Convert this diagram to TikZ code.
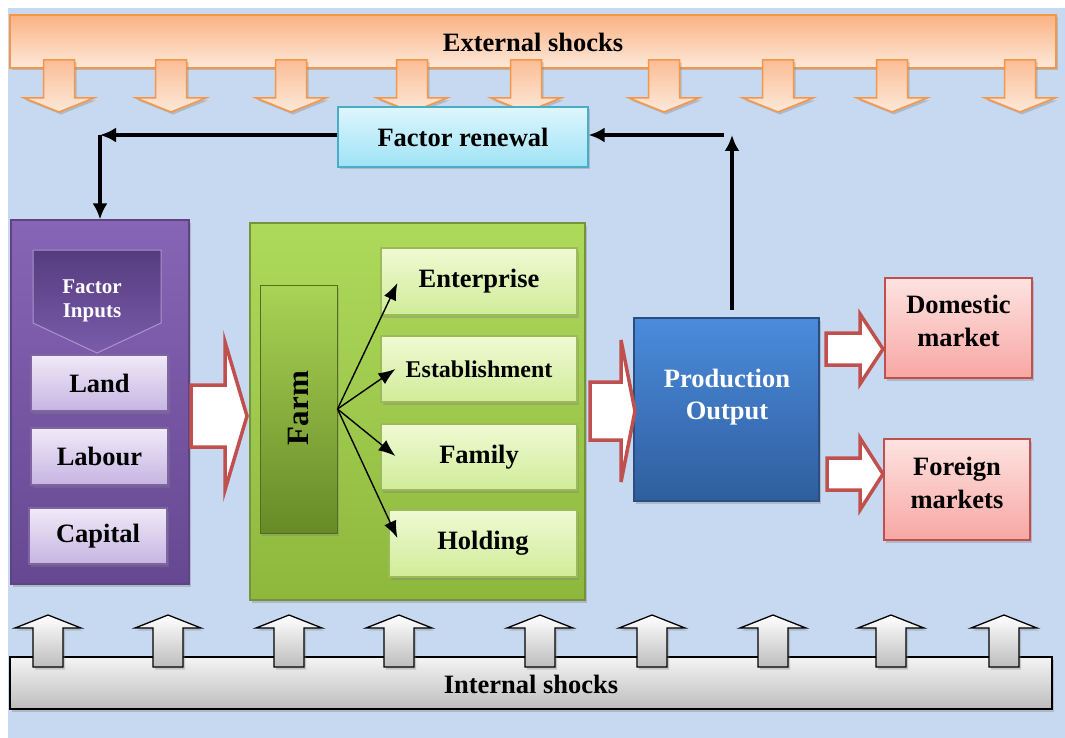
\documentclass[tikz,border=0pt]{standalone}
\usepackage{fontspec}
\setmainfont{Liberation Serif}
\usetikzlibrary{shadows,arrows.meta,calc}
\definecolor{bgblue}{HTML}{C6D9F0}
\definecolor{orB}{HTML}{F79646}
\definecolor{orT}{HTML}{FAB283}
\definecolor{orL}{HTML}{FDE9DA}
\definecolor{cyT}{HTML}{DDF6FD}
\definecolor{cyB}{HTML}{9FE3F6}
\definecolor{cyD}{HTML}{4BACC6}
\definecolor{puT}{HTML}{8765B6}
\definecolor{puB}{HTML}{664892}
\definecolor{puD}{HTML}{5C4580}
\definecolor{pdT}{HTML}{553C7E}
\definecolor{pdB}{HTML}{7A5CAB}
\definecolor{lvT}{HTML}{F0EAF8}
\definecolor{lvB}{HTML}{C6B4E2}
\definecolor{lvD}{HTML}{8064A2}
\definecolor{grT}{HTML}{AEDA5C}
\definecolor{grB}{HTML}{8DB83C}
\definecolor{grD}{HTML}{76923C}
\definecolor{fmT}{HTML}{A9D455}
\definecolor{fmB}{HTML}{678A27}
\definecolor{lgT}{HTML}{EFFAD4}
\definecolor{lgB}{HTML}{D0EC98}
\definecolor{lgD}{HTML}{9BBB59}
\definecolor{blT}{HTML}{4B8BDC}
\definecolor{blB}{HTML}{2F5E9E}
\definecolor{blD}{HTML}{2C4E7E}
\definecolor{pkT}{HTML}{FDE3E1}
\definecolor{pkB}{HTML}{F7A7A3}
\definecolor{pkD}{HTML}{C0504D}
\definecolor{gyT}{HTML}{F4F4F4}
\definecolor{gyB}{HTML}{BDBDBD}
\newcommand\hollowarrow[6]{%
  \draw[hollow] (#1,{#4-#5}) -- (#2,{#4-#5}) -- (#2,{#4-#6}) -- (#3,#4)
    -- (#2,{#4+#6}) -- (#2,{#4+#5}) -- (#1,{#4+#5}) -- cycle;}
\newcommand\shockdown[1]{%
  \draw[downarr] ({#1-15.5},60) -- ({#1+15.5},60) -- ({#1+15.5},98) -- ({#1+35},98)
    -- (#1,112) -- ({#1-35},98) -- ({#1-15.5},98) -- cycle;}
\newcommand\shockup[1]{%
  \draw[uparr] ({#1-15},667) -- ({#1-15},628) -- ({#1-33},628) -- (#1,615)
    -- ({#1+33},628) -- ({#1+15},628) -- ({#1+15},667) -- cycle;}
\begin{document}
\begin{tikzpicture}[x=1pt,y=-1pt,
  shd/.style={drop shadow={opacity=0.35,shadow xshift=2pt,shadow yshift=-2.5pt}},
  box/.style={shd,rectangle,inner sep=0pt,font=\fontsize{26.5}{28}\selectfont\bfseries,align=center},
  extbar/.style={box,draw=orB,line width=1.5pt,top color=orT,bottom color=orL},
  frbox/.style={box,draw=cyD,line width=1.2pt,top color=cyT,bottom color=cyB},
  purplebox/.style={box,draw=puD,line width=1.2pt,top color=puT,bottom color=puB},
  lavbox/.style={box,draw=lvD,line width=1.2pt,top color=lvT,bottom color=lvB},
  greenbox/.style={box,draw=grD,line width=1.2pt,top color=grT,bottom color=grB},
  farmbar/.style={box,draw=fmB!80!black,line width=1pt,top color=fmT,bottom color=fmB},
  lgbox/.style={box,draw=lgD,line width=1.2pt,top color=lgT,bottom color=lgB},
  bluebox/.style={box,draw=blD,line width=1.2pt,top color=blT,bottom color=blB},
  pinkbox/.style={box,draw=pkD,line width=1.5pt,top color=pkT,bottom color=pkB},
  graybar/.style={box,draw=black,line width=1.2pt,top color=gyT,bottom color=gyB},
  txt/.style={inner sep=0pt,font=\fontsize{26.5}{32.5}\selectfont\bfseries,align=center},
  hollow/.style={draw=pkD,line width=3.5pt,fill=white,line join=miter},
  downarr/.style={shd,draw=orB,line width=1.5pt,top color=orT!85!white,bottom color=orL,line join=miter},
  uparr/.style={shd,draw=black,line width=1.3pt,top color=white,bottom color=gyB,line join=miter},
  flow/.style={line width=3.5pt,-{Latex[length=16pt,width=15pt]}},
  fan/.style={line width=1.4pt,-{Latex[length=17pt,width=13pt]}}
]
\useasboundingbox (0,0) rectangle (1065,738);
\fill[bgblue] (8,8) rectangle (1065,738);

% external shocks
\node[extbar,minimum width=1046pt,minimum height=53pt] (ext) at (533,41.5) {};
\node[txt] (exttxt) at (533,42) {External shocks};
\foreach \cx in {59,171,291,412,526,664,778,892,1020} {\shockdown{\cx}}

% internal shocks
\node[graybar,minimum width=1042pt,minimum height=52pt] (int) at (531,683) {};
\node[txt] (inttxt) at (531,684) {Internal shocks};
\foreach \cx in {48,168,289,399,540,652,773,891,1004} {\shockup{\cx}}

% factor renewal
\node[frbox,minimum width=250pt,minimum height=60pt] (fr) at (463,137) {Factor renewal};

% purple factor box
\node[purplebox,minimum width=178pt,minimum height=364pt] (pur) at (100,402) {};
\draw[line width=1pt,draw=puT!70!white,top color=pdT,bottom color=pdB]
  (33,250) -- (161,250) -- (161,323) -- (97,353) -- (33,323) -- cycle;
\node[txt,text=white,font=\fontsize{21}{24.5}\selectfont\bfseries] (fi) at (92,301) {Factor\\Inputs};
\node[lavbox,minimum width=137pt,minimum height=56pt] (land) at (99.5,383) {Land};
\node[lavbox,minimum width=137pt,minimum height=57pt] (labour) at (99.5,456.5) {Labour};
\node[lavbox,minimum width=138pt,minimum height=56pt] (capital) at (98,536) {Capital};

% green farm box
\node[greenbox,minimum width=335pt,minimum height=377pt] (green) at (417.5,411.5) {};
\node[farmbar,minimum width=77pt,minimum height=248pt] (farm) at (298.5,409) {};
\node[txt,rotate=90,font=\fontsize{31}{33}\selectfont\bfseries] (farmtxt) at (298,408) {Farm};
\node[lgbox,minimum width=196pt,minimum height=67pt] (ent) at (479,281.5) {Enterprise};
\node[lgbox,minimum width=196pt,minimum height=66pt,font=\fontsize{24}{26}\selectfont\bfseries] (est) at (479,369) {Establishment};
\node[lgbox,minimum width=196pt,minimum height=66pt] (fam) at (479,457) {Family};
\node[lgbox,minimum width=188pt,minimum height=67pt] (hold) at (483,543.5) {Holding};
\draw[fan] (farm.east) -- ([xshift=17pt,yshift=-1.5pt]ent.west);
\draw[fan] (farm.east) -- ([xshift=15pt]est.west);
\draw[fan] (farm.east) -- ([xshift=15pt,yshift=1pt]fam.west);
\draw[fan] (farm.east) -- ([xshift=9pt,yshift=5.5pt]hold.west);

% production and markets
\node[bluebox,minimum width=185pt,minimum height=183pt] (prod) at (726.5,409.5) {};
\node[txt,text=white] (prodtxt) at (727,397) {Production\\Output};
\node[pinkbox,minimum width=147pt,minimum height=100pt] (dom) at (958.5,328) {};
\node[txt] (domtxt) at (958.5,321) {Domestic\\market};
\node[pinkbox,minimum width=146pt,minimum height=101pt] (for) at (957,489.5) {};
\node[txt] (fortxt) at (957,483) {Foreign\\markets};

% hollow block arrows
\hollowarrow{191}{225}{247}{416}{31}{74}
\hollowarrow{590}{621}{635}{411}{29}{71}
\hollowarrow{826}{860}{883}{349}{16}{35}
\hollowarrow{827}{860}{883}{474}{16}{36}

% feedback loop
\coordinate (c1) at (100,135);
\coordinate (c2) at (732,135);
\coordinate (c2h) at (724,135);
\coordinate (p0) at (732,310);
\draw[flow] (fr.west |- c1) -- (c1);
\draw[flow] (c1) -- (pur.north -| c1);
\draw[flow] (p0) -- (c2);
\draw[flow] (c2h) -- (fr.east |- c2h);
\end{tikzpicture}
\end{document}
